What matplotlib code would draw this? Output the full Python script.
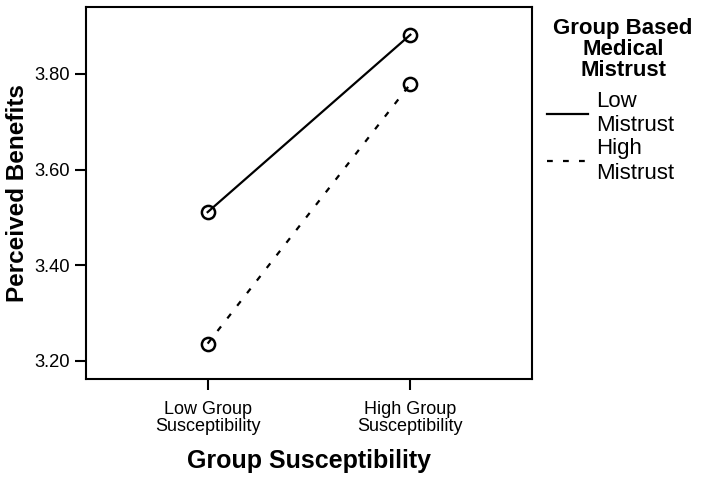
import matplotlib.pyplot as plt

plt.rcParams["font.family"] = ["Liberation Sans", "DejaVu Sans"]

categories = ["Low Group\nSusceptibility", "High Group\nSusceptibility"]
low_mistrust = [3.511, 3.882]
high_mistrust = [3.236, 3.779]
y_ticks = [3.20, 3.40, 3.60, 3.80]

W, H = 701, 478
fig = plt.figure(figsize=(W / 100, H / 100), dpi=100)
ax = fig.add_axes([86 / W, 1 - 379 / H, (532 - 86) / W, (379 - 7) / H])

x = list(range(len(categories)))
dash = (0, (2.6, 4.6))
ax.plot(x, low_mistrust, color="black", lw=1.6, label="Low\nMistrust")
ax.plot(x, high_mistrust, color="black", lw=1.6, ls=dash, label="High\nMistrust")
for vals in (low_mistrust, high_mistrust):
    ax.plot(x, vals, ls="none", marker="o", ms=9.5, mfc="none",
            mec="black", mew=1.8)

ax.set_xlim(-0.6, 1.6)
ax.set_ylim(3.162, 3.940)
ax.set_xticks(x)
ax.set_xticklabels(categories, fontsize=13, linespacing=1.0)
ax.set_yticks(y_ticks)
ax.set_yticklabels(["%.2f" % v for v in y_ticks], fontsize=13.2)
ax.tick_params(axis="both", length=8, width=1.5, direction="out")
ax.tick_params(axis="x", pad=8)
for s in ax.spines.values():
    s.set_linewidth(1.5)

ax.set_ylabel("Perceived Benefits", fontsize=17.5, fontweight="bold")
ax.yaxis.set_label_coords(-0.128, 0.5)
ax.set_xlabel("Group Susceptibility", fontsize=18, fontweight="bold")
ax.xaxis.set_label_coords(0.5, -0.187)

# legend title drawn separately so it can be centred like the original
fig.text(623 / W, 1 - 18 / H, "Group Based\nMedical\nMistrust", ha="center",
         va="top", fontsize=16, fontweight="bold", linespacing=1.0)
leg = ax.legend(loc="upper left", bbox_to_anchor=(531 / W, 1 - 75 / H),
                bbox_transform=fig.transFigure, frameon=False, fontsize=16,
                handlelength=1.85, handletextpad=0.4, labelspacing=0.1,
                borderaxespad=0.3)
for t in leg.get_texts():
    t.set_linespacing(1.22)

plt.savefig("out.png", dpi=100)
